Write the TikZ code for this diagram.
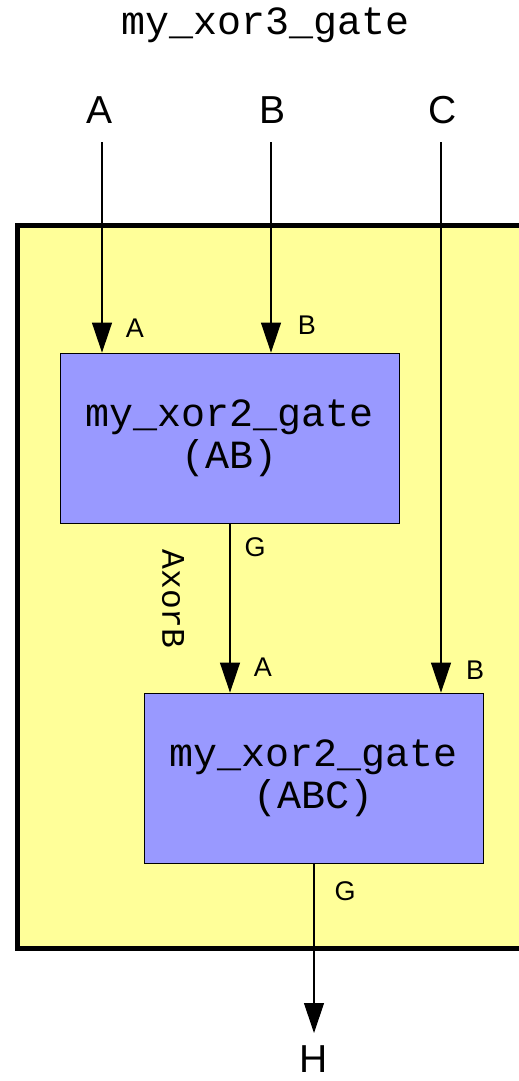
\documentclass[tikz,border=0pt]{standalone}
\usepackage{fontspec}
\setmainfont{Liberation Sans}
\newfontfamily\mono{Liberation Mono}
\usetikzlibrary{arrows.meta}
\definecolor{pale}{HTML}{FFFF99}
\definecolor{gateblue}{HTML}{9999FF}

\begin{document}
\begin{tikzpicture}[x=1pt,y=-1pt,
  gate/.style={draw=black, line width=0.8pt, fill=gateblue, minimum width=339pt,
    minimum height=170pt, inner sep=0pt, align=center,
    font=\mono\fontsize{40}{42}\selectfont},
  port/.style={font=\fontsize{27}{30}\selectfont, inner sep=0pt},
  pin/.style={font=\fontsize{39}{44}\selectfont, inner sep=0pt, anchor=base},
  wire/.style={line width=1.1pt, -{Triangle[length=30pt,width=20pt]}}]
\useasboundingbox (0,0) rectangle (519,1081);
\clip (0,0) rectangle (519,1081);

% enclosing my_xor3_gate block
\draw[line width=5pt, fill=pale] (17.5,225.5) rectangle (560,948);
\node[font=\mono\fontsize{40}{42}\selectfont, anchor=base, inner sep=0pt] (title) at (265.5,35) {my\_xor3\_gate};

% external pins
\node[pin] (pA) at (99.5,123) {A};
\node[pin] (pB) at (272.5,123) {B};
\node[pin] (pC) at (442.5,123) {C};
\node[pin] (pH) at (314,1072) {H};
\coordinate (sA) at (102,142);
\coordinate (sB) at (271,142);
\coordinate (sC) at (441,142);
\coordinate (eH) at (314,1033);

% inner gates
\node[gate] (ab) at (229.5,438) {my\_xor2\_gate\\(AB)};
\node[gate] (abc) at (314,778) {my\_xor2\_gate\\(ABC)};

% wiring
\draw[wire] (sA) -- (sA |- ab.north);
\draw[wire] (sB) -- (sB |- ab.north);
\draw[wire] (sC) -- (sC |- abc.north);
\draw[wire] (ab.south -| 230,0) -- (230,0 |- abc.north);
\draw[wire] (abc.south) -- (eH);

% port labels
\node[port] (abA) at (135,328) {A};
\node[port] (abB) at (307,325) {B};
\node[port] (abG) at (255,547) {G};
\node[port] (abcA) at (263,667) {A};
\node[port] (abcB) at (475,670) {B};
\node[port] (abcG) at (345,891) {G};

% signal name
\node[font=\mono\fontsize{33}{36}\selectfont, rotate=-90, inner sep=0pt] (sig) at (173,599) {AxorB};
\end{tikzpicture}
\end{document}
